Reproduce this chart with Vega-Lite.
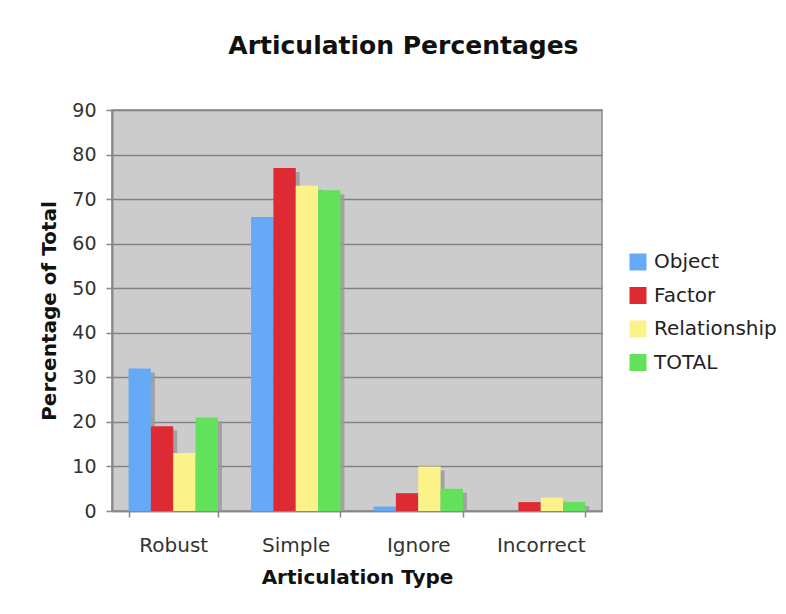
{
  "$schema": "https://vega.github.io/schema/vega-lite/v6.json",
  "width": 490,
  "height": 401,
  "autosize": {"type": "none"},
  "padding": {"left": 112, "top": 110, "right": 184, "bottom": 103},
  "background": "white",
  "title": {
    "text": "Articulation Percentages",
    "anchor": "middle",
    "frame": "bounds",
    "font": "DejaVu Sans",
    "fontSize": 25,
    "fontWeight": "bold",
    "color": "#111111",
    "offset": 42,
    "dx": -5
  },
  "config": {
    "view": {"fill": "#cccccc", "stroke": "#8a8a8a", "strokeWidth": 1.5},
    "font": "DejaVu Sans"
  },
  "data": {
    "values": [
      {"type": "Robust", "series": "Object", "value": 32},
      {"type": "Robust", "series": "Factor", "value": 19},
      {"type": "Robust", "series": "Relationship", "value": 13},
      {"type": "Robust", "series": "TOTAL", "value": 21},
      {"type": "Simple", "series": "Object", "value": 66},
      {"type": "Simple", "series": "Factor", "value": 77},
      {"type": "Simple", "series": "Relationship", "value": 73},
      {"type": "Simple", "series": "TOTAL", "value": 72},
      {"type": "Ignore", "series": "Object", "value": 1},
      {"type": "Ignore", "series": "Factor", "value": 4},
      {"type": "Ignore", "series": "Relationship", "value": 10},
      {"type": "Ignore", "series": "TOTAL", "value": 5},
      {"type": "Incorrect", "series": "Object", "value": 0},
      {"type": "Incorrect", "series": "Factor", "value": 2},
      {"type": "Incorrect", "series": "Relationship", "value": 3},
      {"type": "Incorrect", "series": "TOTAL", "value": 2}
    ]
  },
  "resolve": {"scale": {"x": "independent"}},
  "layer": [
    {
      "mark": {"type": "bar", "color": "#9a9a9a", "opacity": 0.85, "yOffset": 4, "clip": true},
      "encoding": {
        "x": {
          "field": "type",
          "type": "nominal",
          "sort": ["Robust", "Simple", "Ignore", "Incorrect"],
          "scale": {"paddingInner": 0.27, "paddingOuter": 0.135, "align": 0.62},
          "axis": null
        },
        "xOffset": {
          "field": "series",
          "type": "nominal",
          "sort": ["Object", "Factor", "Relationship", "TOTAL"],
          "scale": {"paddingInner": 0, "paddingOuter": 0}
        },
        "y": {
          "field": "value",
          "type": "quantitative",
          "scale": {"domain": [0, 90], "nice": false},
          "axis": {
            "title": "Percentage of Total",
            "titleFont": "DejaVu Sans",
            "titleFontSize": 20,
            "titleFontWeight": "bold",
            "titleColor": "#111111",
            "titlePadding": 12,
            "values": [0, 10, 20, 30, 40, 50, 60, 70, 80, 90],
            "labelFontSize": 19,
            "labelColor": "#333333",
            "labelPadding": 10,
            "tickSize": 6,
            "tickColor": "#888888",
            "tickWidth": 1.5,
            "domainColor": "#888888",
            "domainWidth": 2,
            "gridColor": "#828282",
            "gridWidth": 1.5
          }
        }
      }
    },
    {
      "mark": {"type": "bar"},
      "encoding": {
        "x": {
          "field": "type",
          "type": "nominal",
          "sort": ["Robust", "Simple", "Ignore", "Incorrect"],
          "scale": {"paddingInner": 0.27, "paddingOuter": 0.135},
          "axis": {
            "title": "Articulation Type",
            "titleFont": "DejaVu Sans",
            "titleFontSize": 20,
            "titleFontWeight": "bold",
            "titleColor": "#111111",
            "titlePadding": 12,
            "labelAngle": 0,
            "labelFontSize": 20,
            "labelColor": "#333333",
            "labelPadding": 18,
            "tickBand": "extent",
            "tickSize": 6,
            "tickColor": "#888888",
            "tickWidth": 1.5,
            "domainColor": "#888888",
            "domainWidth": 1.5,
            "grid": false
          }
        },
        "xOffset": {
          "field": "series",
          "type": "nominal",
          "sort": ["Object", "Factor", "Relationship", "TOTAL"],
          "scale": {"paddingInner": 0, "paddingOuter": 0}
        },
        "y": {
          "field": "value",
          "type": "quantitative",
          "scale": {"domain": [0, 90], "nice": false},
          "axis": {
            "title": "Percentage of Total",
            "titleFont": "DejaVu Sans",
            "titleFontSize": 20,
            "titleFontWeight": "bold",
            "titleColor": "#111111",
            "titlePadding": 12,
            "values": [0, 10, 20, 30, 40, 50, 60, 70, 80, 90],
            "labelFontSize": 19,
            "labelColor": "#333333",
            "labelPadding": 10,
            "tickSize": 6,
            "tickColor": "#888888",
            "tickWidth": 1.5,
            "domainColor": "#888888",
            "domainWidth": 2,
            "gridColor": "#828282",
            "gridWidth": 1.5
          }
        },
        "color": {
          "field": "series",
          "type": "nominal",
          "sort": ["Object", "Factor", "Relationship", "TOTAL"],
          "scale": {
            "domain": ["Object", "Factor", "Relationship", "TOTAL"],
            "range": ["#66aaf7", "#dd2a33", "#fcf28a", "#62e25a"]
          },
          "legend": {
            "title": null,
            "orient": "none",
            "legendX": 516,
            "legendY": 142,
            "padding": 0,
            "symbolType": "square",
            "symbolSize": 289,
            "symbolStrokeWidth": 0,
            "labelFontSize": 20,
            "labelColor": "#222222",
            "labelOffset": 6,
            "rowPadding": 13.5
          }
        }
      }
    }
  ]
}
